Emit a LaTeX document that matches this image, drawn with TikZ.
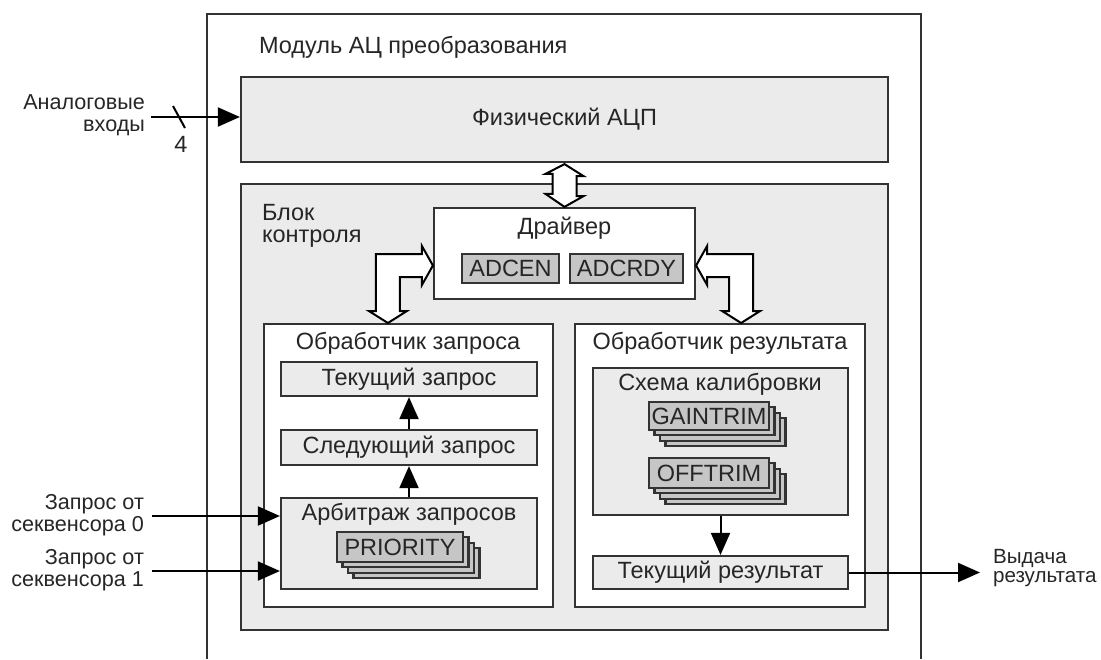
\documentclass[tikz,border=0pt]{standalone}
\usepackage{fontspec}
\setmainfont{Liberation Sans}
\usetikzlibrary{arrows.meta,fit,calc}
\definecolor{boxline}{HTML}{333333}
\definecolor{panel}{HTML}{EBEBEB}
\definecolor{regfill}{HTML}{C6C6C6}

\begin{document}
\begin{tikzpicture}[x=0.5pt,y=-0.5pt,
		font=\fontsize{11.75}{11}\selectfont,text=black!85,
		blk/.style={draw=boxline,line width=1.1pt,inner sep=0pt},
		regbox/.style={blk,fill=regfill},
		sig/.style={line width=1pt,-{Triangle[length=11pt,width=9.5pt]}},
		bus/.style={draw=black,line width=1pt,fill=white},
		side/.style={align=right,anchor=east,font=\fontsize{10.8}{11}\selectfont}]
	\useasboundingbox (0,0) rectangle (1101,659);
	\draw[boxline,line width=1pt] (207,659)--(207,14)--(921,14)--(921,659);
	\node[anchor=west] (mod) at (252,47) {Модуль АЦ преобразования};
	\node[blk,fill=panel,fit={(241,77) (888,162)}] (adc) {};
	\node (adct) at (adc) {Физический АЦП};
	\node[blk,fill=panel,fit={(241,184) (888,630)}] (ctl) {};
	\node[anchor=west,align=left] (ctlt) at (255,226) {Блок\\контроля};
	\node[blk,fill=white,fit={(434,208) (695,299)}] (drv) {};
	\node (drvt) at (564.5,228) {Драйвер};
	\node[regbox,fit={(462,254) (559,283)}] (adcen) {};
	\node[regbox,fit={(570,254) (683,283)}] (adcrdy) {};
	\node (adcent) at (adcen) {ADCEN};
	\node (adcrdyt) at (adcrdy) {ADCRDY};
	\node[blk,fill=white,fit={(264,324) (553,607)}] (rqh) {};
	\node[blk,fill=white,fit={(575,324) (865,607)}] (rsh) {};
	\node (rqht) at (408,343) {Обработчик запроса};
	\node (rsht) at (720,343) {Обработчик результата};
	\node[blk,fill=panel,fit={(281,362) (537,396)}] (cur) {};
	\node[blk,fill=panel,fit={(281,430) (537,465)}] (nxt) {};
	\node (curt) at (cur) {Текущий запрос};
	\node (nxtt) at (nxt) {Следующий запрос};
	\node[blk,fill=panel,fit={(281,498) (537,589)}] (arb) {};
	\node (arbt) at (409,514) {Арбитраж запросов};
	\node[blk,fill=panel,fit={(593,368) (848,515)}] (cal) {};
	\node (calt) at (720,384) {Схема калибровки};
	\node[blk,fill=panel,fit={(593,556) (848,589)}] (res) {};
	\node (rest) at (res) {Текущий результат};
	\foreach \x/\y/\w/\h in {337/532/126/30,649/402/120/28,649/458/120/30}
		\foreach \i in {3,2,1}
			\draw[regbox] (\x+5.5*\i,\y+5.3*\i) rectangle ++(\w,\h);
	\node[regbox,fit={(337,532) (463,562)}] (prio) {};
	\node[regbox,fit={(649,402) (769,430)}] (gain) {};
	\node[regbox,fit={(649,458) (769,488)}] (off) {};
	\node (priot) at (prio) {PRIORITY};
	\node (gaint) at (gain) {GAINTRIM};
	\node (offt) at (off) {OFFTRIM};
	\draw[bus] ($(adc.south)+(0,1)$) -- ++(19,12) -- ++(-7,0) -- ++(0,20) -- ++(7,0) -- (drv.north) -- ++(-19,-13) -- ++(7,0) -- ++(0,-20) -- ++(-7,0) -- cycle;
	\draw[bus] ($(drv.west)+(0,12)$) -- ++(-11,-19.5) -- ++(0,8) -- ++(-46,0) -- ++(0,57) -- ++(-7,0) -- ++(19,12) -- ++(19,-12) -- ++(-7,0) -- ++(0,-34) -- ++(22,0) -- ++(0,8) -- cycle;
	\draw[bus] ($(drv.east)+(0,12)$) -- ++(11,-19.5) -- ++(0,8) -- ++(46,0) -- ++(0,57) -- ++(7,0) -- ++(-19,12) -- ++(-19,-12) -- ++(7,0) -- ++(0,-34) -- ++(-22,0) -- ++(0,8) -- cycle;
	\draw[sig] (arb.north) -- (nxt.south);
	\draw[sig] (nxt.north) -- (cur.south);
	\draw[sig] (cal.south) -- (res.north);
	\coordinate (ain) at (151,117);
	\draw[sig] (ain) -- (ain-|adc.west);
	\draw[line width=1pt] ($(ain)+(22,-11)$) -- ++(12,22);
	\node (n4) at (181,144) {4};
	\node[side] (aint) at (152,115) {Аналоговые\\входы};
	\coordinate (rq0) at (152,516);
	\coordinate (rq1) at (152,571);
	\draw[sig] (rq0) -- (rq0-|arb.west);
	\draw[sig] (rq1) -- (rq1-|arb.west);
	\node[side] (rq0t) at (151,515) {Запрос от\\секвенсора 0};
	\node[side] (rq1t) at (151,570) {Запрос от\\секвенсора 1};
	\coordinate (out) at (980,572.5);
	\draw[sig] (res.east) -- (out);
	\node[anchor=west,align=left,font=\fontsize{10.3}{9.6}\selectfont] (outt) at (986,568) {Выдача\\результата};
\end{tikzpicture}
\end{document}
